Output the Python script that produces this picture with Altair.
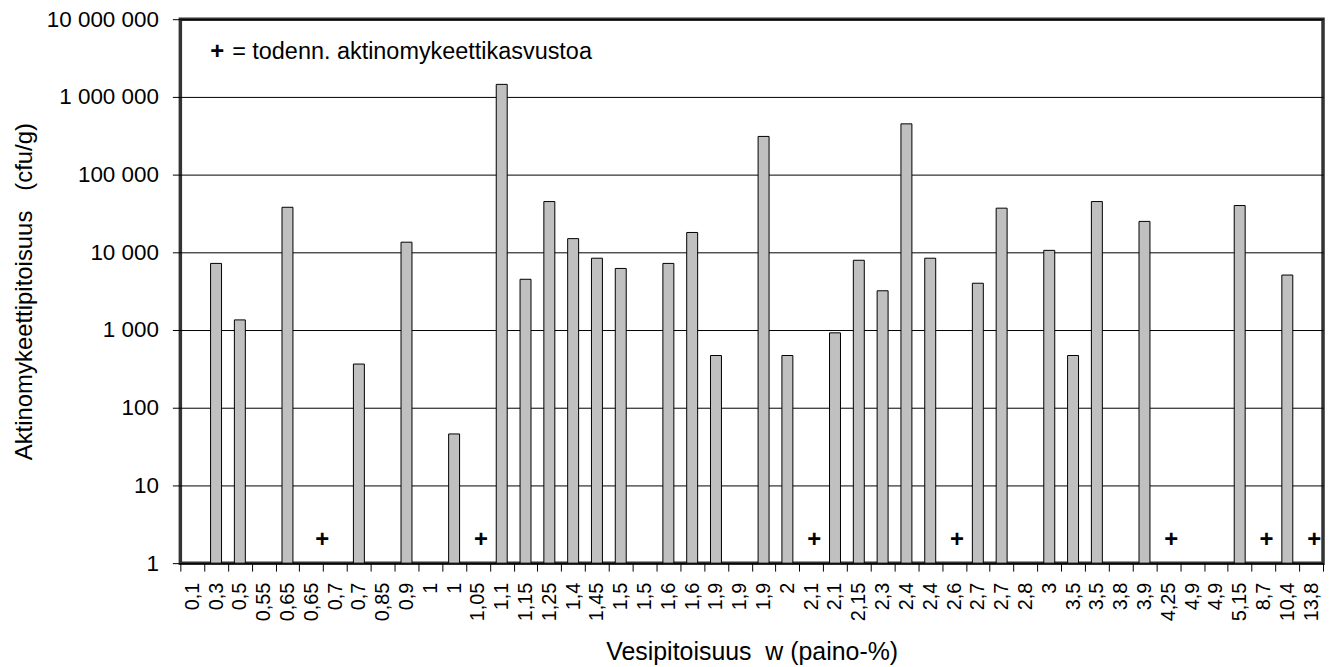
import altair as alt
import pandas as pd

# Category labels along the x axis (duplicates are distinct samples)
x_labels = ["0,1", "0,3", "0,5", "0,55", "0,65", "0,65", "0,7", "0,7", "0,85", "0,9",
            "1", "1", "1,05", "1,1", "1,15", "1,25", "1,4", "1,45", "1,5", "1,5",
            "1,6", "1,6", "1,9", "1,9", "1,9", "2", "2,1", "2,1", "2,15", "2,3",
            "2,4", "2,4", "2,6", "2,7", "2,7", "2,8", "3", "3,5", "3,5", "3,8",
            "3,9", "4,25", "4,9", "4,9", "5,15", "8,7", "10,4", "13,8"]

# Actinomycete counts (cfu/g); None = no bar
values = [None, 7200, 1350, None, 38000, None, None, 365, None, 13500,
          None, 46, None, 1450000, 4500, 45000, 15000, 8400, 6200, None,
          7200, 18000, 470, None, 310000, 470, None, 920, 7900, 3200,
          450000, 8400, None, 4000, 37000, None, 10600, 470, 45000, None,
          25000, None, None, None, 40000, None, 5100, None]

# Samples marked with "+" (probable actinomycete growth)
plus_idx = [12, 26, 32, 41, 45, 47]
plus_idx_between = [5]
plus_level = 2

y_tick_values = [1, 10, 100, 1000, 10000, 100000, 1000000, 10000000]
y_tick_labels = ["1", "10", "100", "1 000", "10 000", "100 000", "1 000 000", "10 000 000"]

legend_plus = "+"
legend_text = "= todenn. aktinomykeettikasvustoa"
x_title = "Vesipitoisuus\u00a0\u00a0w (paino-%)"
y_title = "Aktinomykeettipitoisuus\u00a0\u00a0\u00a0(cfu/g)"

FONT = "Liberation Sans"
W, H = 1147, 546

df = pd.DataFrame({"idx": list(range(len(x_labels))), "label": x_labels, "value": values})
df["base"] = 1
bars_df = df.dropna(subset=["value"])
plus_df = pd.DataFrame({"idx": plus_idx, "pos": [plus_level] * len(plus_idx), "t": ["+"] * len(plus_idx)})
plus2_df = pd.DataFrame({"idx": plus_idx_between, "pos": [plus_level] * len(plus_idx_between),
                         "t": ["+"] * len(plus_idx_between)})

x_label_js = "[" + ",".join("'%s'" % l for l in x_labels) + "][datum.value]"
y_label_js = "[" + ",".join("'%s'" % l for l in y_tick_labels) + "][round(log(datum.value)/LN10)]"

x_scale = alt.Scale(domain=list(range(len(x_labels))), paddingInner=0, paddingOuter=0)
y_scale = alt.Scale(type="log", domain=[1, 10000000])

x_axis = alt.Axis(
    labelExpr=x_label_js, labelAngle=-90, labelFontSize=20, labelColor="black",
    labelPadding=11, tickSize=8, tickColor="black", tickBand="extent",
    domain=False, grid=False, title=x_title, titleFontSize=25,
    titleFontWeight="normal", titleColor="black", titleBaseline="alphabetic",
    titleY=97, labelOverlap=False, labelFont=FONT, titleFont=FONT,
)
y_axis = alt.Axis(
    values=y_tick_values, labelExpr=y_label_js, labelFontSize=22.5, labelColor="black",
    labelPadding=14, tickSize=8, tickColor="black", domain=False,
    grid=True, gridColor="black", gridWidth=1, title=y_title, titleFontSize=24,
    titleFontWeight="normal", titleColor="black", titleX=-156, titleBaseline="middle",
    labelFont=FONT, titleFont=FONT,
)

bars = alt.Chart(bars_df).mark_bar(size=11, fill="#c0c0c0", stroke="black", strokeWidth=1).encode(
    x=alt.X("idx:O", scale=x_scale, axis=x_axis),
    y=alt.Y("value:Q", scale=y_scale, axis=y_axis),
    y2="base:Q",
)

plus_marks = alt.Chart(plus_df).mark_text(
    fontSize=24, fontWeight="bold", font=FONT, color="black", baseline="middle", dx=3
).encode(
    x=alt.X("idx:O", scale=x_scale, axis=x_axis),
    y=alt.Y("pos:Q", scale=y_scale, axis=y_axis),
    text="t:N",
)

plus_marks2 = alt.Chart(plus2_df).mark_text(
    fontSize=24, fontWeight="bold", font=FONT, color="black", baseline="middle", dx=11
).encode(
    x=alt.X("idx:O", scale=x_scale, axis=x_axis),
    y=alt.Y("pos:Q", scale=y_scale, axis=y_axis),
    text="t:N",
)

leg_df = pd.DataFrame({"p": [legend_plus], "t": [legend_text]})
leg_plus = alt.Chart(leg_df).mark_text(
    fontSize=24, fontWeight="bold", font=FONT, color="black", align="left", baseline="alphabetic"
).encode(x=alt.value(30), y=alt.value(40), text="p:N")
leg_txt = alt.Chart(leg_df).mark_text(
    fontSize=23.5, font=FONT, color="black", align="left", baseline="alphabetic"
).encode(x=alt.value(52), y=alt.value(40), text="t:N")

chart = alt.layer(bars, plus_marks, plus_marks2, leg_plus, leg_txt).properties(
    width=W, height=H,
    autosize=alt.AutoSizeParams(type="none"),
    padding={"left": 173, "top": 10, "right": 6, "bottom": 102},
).configure(font=FONT).configure_view(stroke="#333333", strokeWidth=3.5)

chart.save("out.html", embed_options={"renderer": "svg", "actions": False})
